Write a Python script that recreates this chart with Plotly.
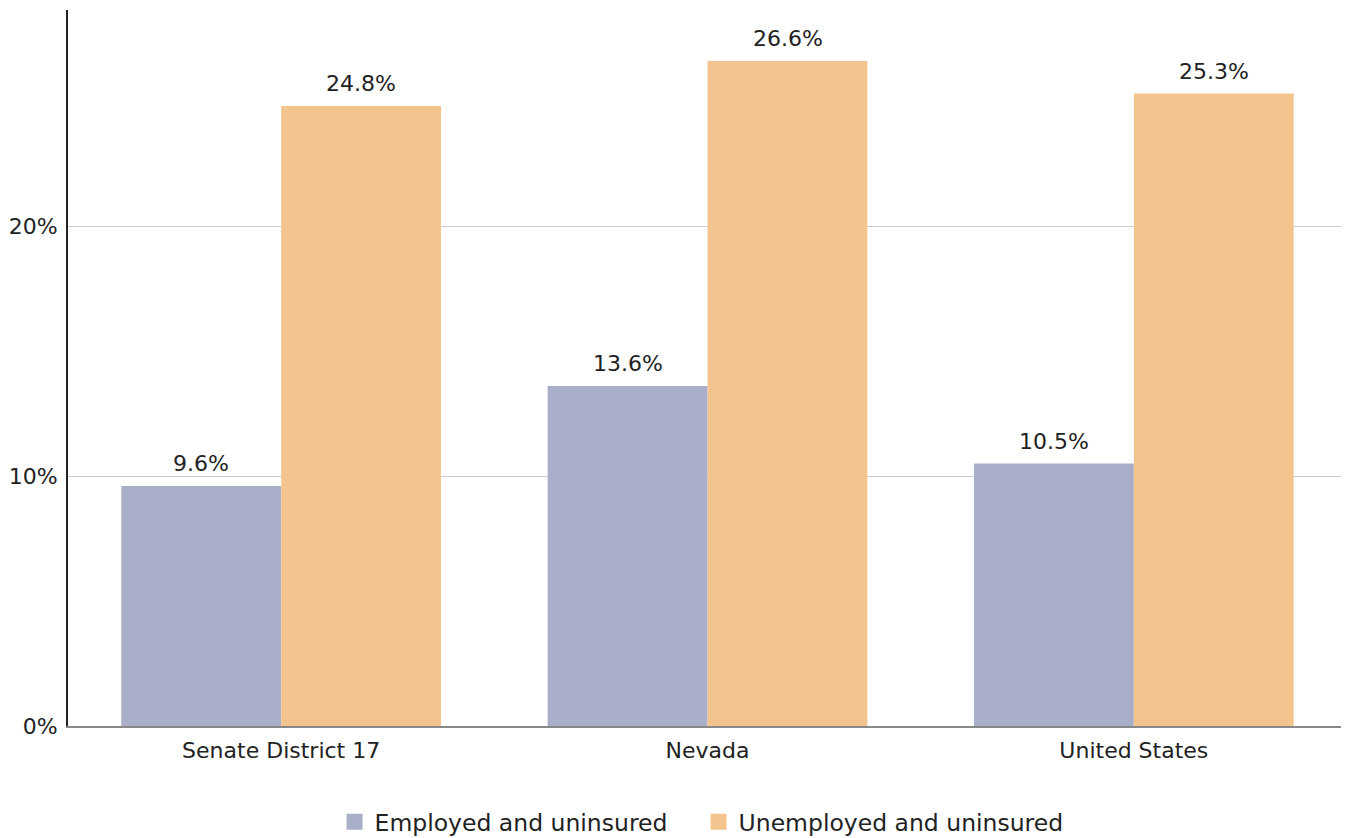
import plotly.graph_objects as go

categories = ['Senate District 17', 'Nevada', 'United States']
employed = [9.6, 13.6, 10.5]
unemployed = [24.8, 26.6, 25.3]
y_ticks = [0, 10, 20]
y_tick_labels = ['0%', '10%', '20%']

font_family = 'Verdana, DejaVu Sans, sans-serif'
blue = '#a9aec9'
orange = '#f4c48f'

fig = go.Figure()
fig.add_trace(go.Bar(
    x=categories, y=employed, name='Employed and uninsured',
    marker=dict(color=blue, line=dict(width=0)), showlegend=False,
))
fig.add_trace(go.Bar(
    x=categories, y=unemployed, name='Unemployed and uninsured',
    marker=dict(color=orange, line=dict(width=0)), showlegend=False,
))

# legend entries with bigger square swatches
for name, color in [('Employed and uninsured', blue), ('Unemployed and uninsured', orange)]:
    fig.add_trace(go.Scatter(
        x=[None], y=[None], mode='markers', name=name,
        marker=dict(symbol='square', size=20, color=color),
    ))

# value labels above bars
for vals, shift in [(employed, -80), (unemployed, 80)]:
    for cat, v in zip(categories, vals):
        fig.add_annotation(
            x=cat, y=v, text=f'{v:.1f}%', showarrow=False,
            xshift=shift, yshift=8, yanchor='bottom',
            font=dict(size=22, color='#222222'),
        )

fig.update_layout(
    width=1349, height=838,
    paper_bgcolor='white', plot_bgcolor='white',
    font=dict(family=font_family, size=22, color='#222222'),
    barmode='group', bargap=0.25, bargroupgap=0,
    margin=dict(l=60, r=10, t=2, b=120, autoexpand=False),
    showlegend=True,
    legend=dict(orientation='h', x=0.493, xanchor='center', y=-0.134, yanchor='middle',
                font=dict(size=23.5), traceorder='normal', itemwidth=30,
                entrywidth=319, entrywidthmode='pixels'),
    xaxis=dict(showline=True, linecolor='#888888', linewidth=2, ticks='',
               showgrid=False, tickfont=dict(size=22), ticklabelstandoff=4,
               automargin=False),
    yaxis=dict(range=[0, 28.64], tickvals=y_ticks, ticktext=y_tick_labels,
               showline=True, linecolor='#222222', linewidth=2,
               showgrid=True, gridcolor='#cccccc', gridwidth=1,
               zeroline=False, ticks='', ticklabelstandoff=4,
               tickfont=dict(size=22), automargin=False),
)

fig.write_html('out.html')
